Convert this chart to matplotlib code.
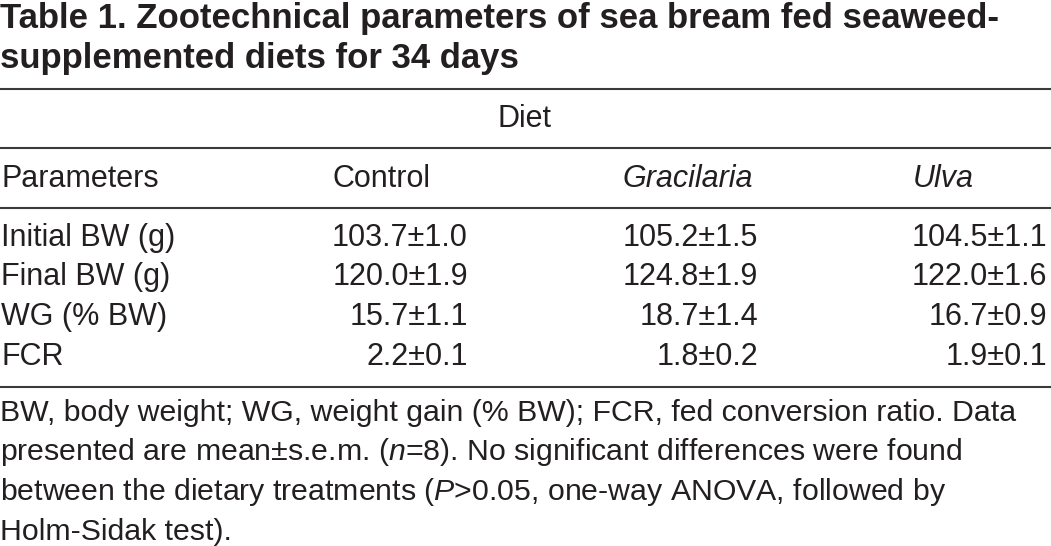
import matplotlib

matplotlib.use("Agg")
import matplotlib.pyplot as plt

plt.rcParams["font.family"] = ["Liberation Sans", "DejaVu Sans"]
plt.rcParams["mathtext.fontset"] = "custom"
plt.rcParams["mathtext.rm"] = "Liberation Sans"
plt.rcParams["mathtext.it"] = "Liberation Sans:italic"

title_lines = [
    "Table 1. Zootechnical parameters of sea bream fed seaweed-",
    "supplemented diets for 34 days",
]
group_label = "Diet"
row_header = "Parameters"
diets = ["Control", "Gracilaria", "Ulva"]
diet_italic = [False, True, True]
parameters = ["Initial BW (g)", "Final BW (g)", "WG (% BW)", "FCR"]
control_mean = [103.7, 120.0, 15.7, 2.2]
control_sem = [1.0, 1.9, 1.1, 0.1]
gracilaria_mean = [105.2, 124.8, 18.7, 1.8]
gracilaria_sem = [1.5, 1.9, 1.4, 0.2]
ulva_mean = [104.5, 122.0, 16.7, 1.9]
ulva_sem = [1.1, 1.6, 0.9, 0.1]
footnote_lines = [
    "BW, body weight; WG, weight gain (% BW); FCR, fed conversion ratio. Data",
    r"presented are mean±s.e.m. ($\mathit{n}$=8). No significant differences were found",
    r"between the dietary treatments ($\mathit{P}$>0.05, one-way ANOVA, followed by",
    "Holm-Sidak test).",
]

ink = "#231f20"
rule = "#3a3a3a"
body = 22
note = 21.8

fig = plt.figure(figsize=(10.51, 5.46), dpi=100)
ax = fig.add_axes([0, 0, 1, 1])
ax.set_xlim(0, 1051)
ax.set_ylim(546, 0)
ax.axis("off")

# title
for y, line in zip([28, 68], title_lines):
    ax.text(0, y, line, fontsize=25, fontweight="bold", color=ink, va="baseline")

# rules
for y in [89, 148, 208, 387]:
    ax.axhline(y, color=rule, lw=1.5)

ax.text(525, 127, group_label, fontsize=body, color=ink, va="baseline", ha="center")

header_x = [333, 622, 913]
value_right = [468, 758, 1047]
ax.text(1, 187, row_header, fontsize=body, color=ink, va="baseline")
for x, name, it in zip(header_x, diets, diet_italic):
    ax.text(x, 187, name, fontsize=body, color=ink, va="baseline",
            style="italic" if it else "normal")

row_y = [246, 285, 325, 365]
columns = [
    (control_mean, control_sem),
    (gracilaria_mean, gracilaria_sem),
    (ulva_mean, ulva_sem),
]
for i, (label, y) in enumerate(zip(parameters, row_y)):
    ax.text(1, y, label, fontsize=body, color=ink, va="baseline")
    for xr, (means, sems) in zip(value_right, columns):
        ax.text(xr, y, f"{means[i]:.1f}±{sems[i]:.1f}", fontsize=body,
                color=ink, va="baseline", ha="right")

for y, line in zip([421, 460, 500, 540], footnote_lines):
    ax.text(0, y, line, fontsize=note, color=ink, va="baseline")

fig.savefig("out.png", dpi=100)
